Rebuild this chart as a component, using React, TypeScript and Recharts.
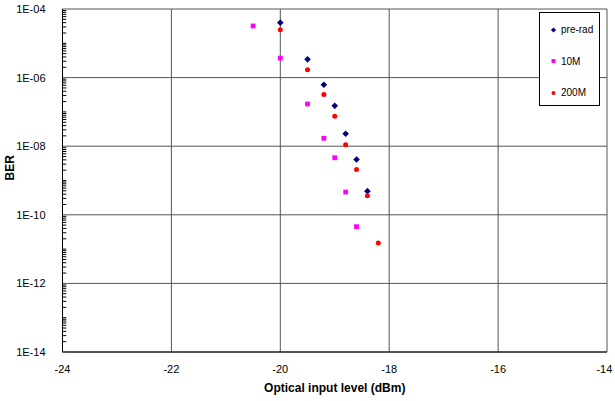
import React from 'react';
import {
  ScatterChart,
  Scatter,
  XAxis,
  YAxis,
  CartesianGrid,
  ReferenceLine,
} from 'recharts';

// Optical input level (dBm) vs BER
const preRadX = [-20, -19.5, -19.2, -19.0, -18.8, -18.6, -18.4];
const preRadBer = [4.0e-5, 3.4e-6, 6.2e-7, 1.5e-7, 2.3e-8, 4.1e-9, 4.9e-10];

const m10X = [-20.5, -20, -19.5, -19.2, -19.0, -18.8, -18.6];
const m10Ber = [3.2e-5, 3.7e-6, 1.7e-7, 1.7e-8, 4.6e-9, 4.6e-10, 4.5e-11];

const m200X = [-20, -19.5, -19.2, -19.0, -18.8, -18.6, -18.4, -18.2];
const m200Ber = [2.5e-5, 1.7e-6, 3.2e-7, 7.5e-8, 1.1e-8, 2.1e-9, 3.6e-10, 1.5e-11];

const xTicks = [-24, -22, -20, -18, -16, -14];
const yTicks = [1e-14, 1e-12, 1e-10, 1e-8, 1e-6, 1e-4];
const yTickLabels = ['1E-14', '1E-12', '1E-10', '1E-08', '1E-06', '1E-04'];

// log minor ticks along the left axis
const minorTicks: number[] = [];
for (let d = -14; d < -4; d++) {
  for (let m = 1; m <= 9; m++) {
    if (m === 1 && d % 2 === 0) continue;
    minorTicks.push(m * Math.pow(10, d));
  }
}

const toPoints = (xs: number[], ys: number[]) => xs.map((x, i) => ({ x, y: ys[i] }));

const FONT = 'Arial, "Liberation Sans", sans-serif';

const Diamond = (props: any) => {
  const { cx, cy, r = 3.3 } = props;
  return <path d={`M${cx},${cy - r}L${cx + r},${cy}L${cx},${cy + r}L${cx - r},${cy}Z`} fill="#000080" />;
};
const Square = (props: any) => {
  const { cx, cy, r = 2.4 } = props;
  return <rect x={cx - r} y={cy - r} width={2 * r} height={2 * r} fill="#ff00ff" />;
};
const Dot = (props: any) => {
  const { cx, cy, r = 2.5 } = props;
  return <circle cx={cx} cy={cy} r={r} fill="#ff0000" />;
};

const YTick = (props: any) => {
  const { x, y, payload } = props;
  const idx = yTicks.indexOf(payload.value);
  return (
    <text x={x - 9} y={y} dy={4} textAnchor="end" fontSize={11} fill="#000" fontFamily={FONT}>
      {idx >= 0 ? yTickLabels[idx] : ''}
    </text>
  );
};

const XTick = (props: any) => {
  const { x, y, payload } = props;
  return (
    <text x={x} y={y} dy={13} textAnchor="middle" fontSize={11} fill="#000" fontFamily={FONT}>
      {payload.value}
    </text>
  );
};

const legendItems = [
  { name: 'pre-rad', Shape: Diamond, r: 2.6 },
  { name: '10M', Shape: Square, r: 2 },
  { name: '200M', Shape: Dot, r: 2 },
];

const LegendBox = () => (
  <div
    style={{
      position: 'absolute',
      left: 539,
      top: 12,
      width: 61,
      height: 94,
      border: '1px solid #000',
      background: '#fff',
      boxSizing: 'border-box',
      fontFamily: FONT,
      fontSize: 10,
    }}
  >
    {legendItems.map(({ name, Shape, r }, i) => (
      <div key={name} style={{ position: 'absolute', left: 10, top: 11 + i * 31.5, display: 'flex', alignItems: 'center' }}>
        <svg width={7} height={8} style={{ marginRight: 4 }}>
          <Shape cx={3.5} cy={4} r={r} />
        </svg>
        <span>{name}</span>
      </div>
    ))}
  </div>
);

export default function App() {
  return (
    <div style={{ position: 'absolute', left: 0, top: 0, width: 615, height: 401, background: '#fff' }}>
      <style>{`body{margin:0}`}</style>
      <ScatterChart width={615} height={401} margin={{ top: 9, right: 8, bottom: 0, left: 0 }}>
        <CartesianGrid stroke="#555" strokeWidth={1} />
        <XAxis
          type="number"
          dataKey="x"
          domain={[-24, -14]}
          ticks={xTicks}
          allowDataOverflow
          tickLine={false}
          axisLine={{ stroke: '#000' }}
          tick={<XTick />}
          height={49}
          label={{ value: 'Optical input level (dBm)', position: 'insideBottom', offset: 9, fontSize: 12, fontWeight: 'bold', fill: '#000', fontFamily: FONT }}
        />
        <YAxis
          type="number"
          dataKey="y"
          scale="log"
          domain={[1e-14, 1e-4]}
          ticks={yTicks}
          allowDataOverflow
          tickLine={false}
          axisLine={{ stroke: '#000' }}
          tick={<YTick />}
          width={62.5}
          label={{ value: 'BER', angle: -90, position: 'insideLeft', offset: 10, fontSize: 12, fontWeight: 'bold', fill: '#000', fontFamily: FONT }}
        />
        {minorTicks.map((v) => (
          <ReferenceLine
            key={v}
            segment={[{ x: -24, y: v }, { x: -23.93, y: v }]}
            stroke="#000"
            strokeWidth={1}
            ifOverflow="visible"
          />
        ))}
        <Scatter name="pre-rad" data={toPoints(preRadX, preRadBer)} shape={<Diamond />} isAnimationActive={false} />
        <Scatter name="10M" data={toPoints(m10X, m10Ber)} shape={<Square />} isAnimationActive={false} />
        <Scatter name="200M" data={toPoints(m200X, m200Ber)} shape={<Dot />} isAnimationActive={false} />
      </ScatterChart>
      <LegendBox />
    </div>
  );
}
